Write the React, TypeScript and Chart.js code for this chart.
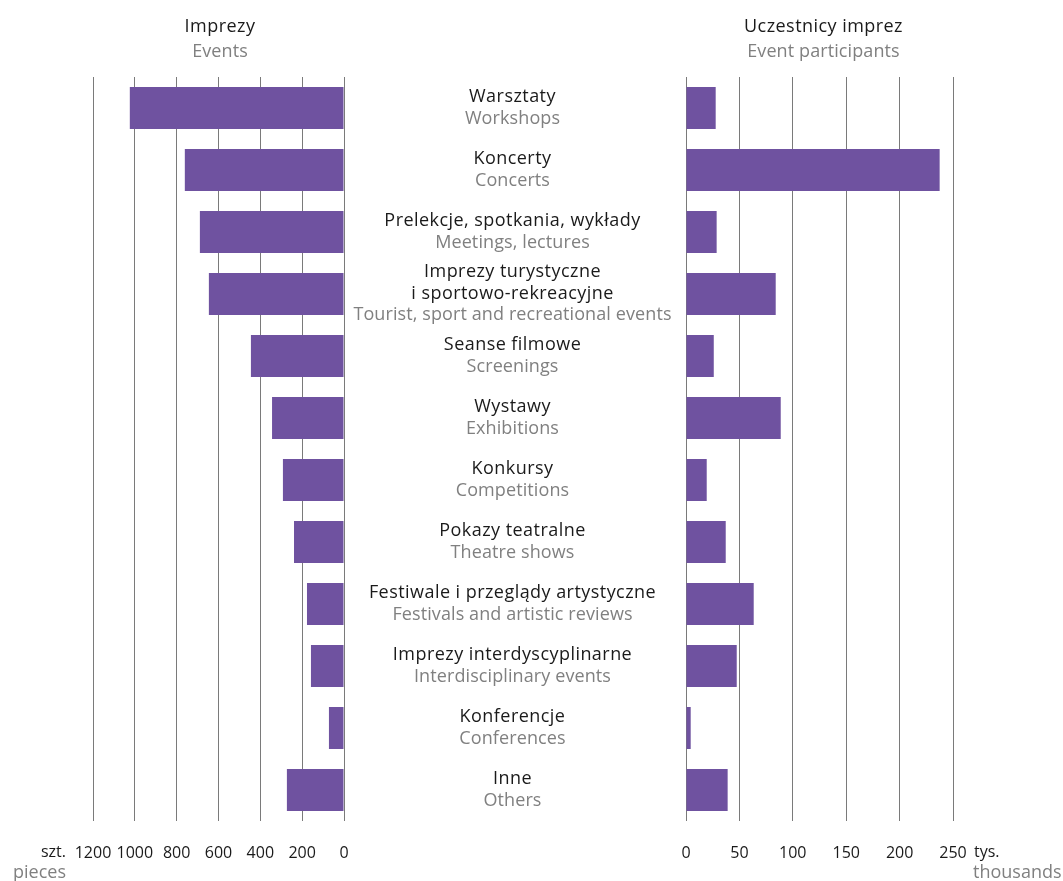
import React, { useEffect, useRef } from 'react';
import { Chart, registerables } from 'chart.js';

Chart.register(...registerables);

// ---------- data ----------
const categoriesPL = [
  'Warsztaty',
  'Koncerty',
  'Prelekcje, spotkania, wykłady',
  'Imprezy turystyczne\ni sportowo-rekreacyjne',
  'Seanse filmowe',
  'Wystawy',
  'Konkursy',
  'Pokazy teatralne',
  'Festiwale i przeglądy artystyczne',
  'Imprezy interdyscyplinarne',
  'Konferencje',
  'Inne',
];

const categoriesEN = [
  'Workshops',
  'Concerts',
  'Meetings, lectures',
  'Tourist, sport and recreational events',
  'Screenings',
  'Exhibitions',
  'Competitions',
  'Theatre shows',
  'Festivals and artistic reviews',
  'Interdisciplinary events',
  'Conferences',
  'Others',
];

// Imprezy / Events (szt. / pieces)
const eventsValues = [1024, 761, 689, 646, 445, 344, 292, 239, 177, 158, 72, 273];
// Uczestnicy imprez / Event participants (tys. / thousands)
const participantsValues = [27.8, 237.5, 28.7, 84, 26, 88.7, 19.4, 37.2, 63.4, 47.5, 4.4, 39];

const eventsTicks = [0, 200, 400, 600, 800, 1000, 1200];
const participantsTicks = [0, 50, 100, 150, 200, 250];

const titleLeftPL = 'Imprezy';
const titleLeftEN = 'Events';
const titleRightPL = 'Uczestnicy imprez';
const titleRightEN = 'Event participants';
const unitLeftPL = 'szt.';
const unitLeftEN = 'pieces';
const unitRightPL = 'tys.';
const unitRightEN = 'thousands';

// ---------- styles ----------
const FONT = "'Open Sans', 'Noto Sans', sans-serif";
const PURPLE = '#6f52a0';
const BLACK = '#1a1a1a';
const GRAY = '#808080';
const GRID = '#7a7a7a';
const LINE_H = 21.5;
const TRACK_BLACK = '0.45px';
const TRACK_GRAY = '0.1px';

const labelsPlugin = {
  id: 'centerLabels',
  afterDraw(chart: any) {
    const ctx = chart.ctx as any;
    const y = chart.scales.y;
    const xL = chart.scales.xL;
    const xR = chart.scales.xR;
    const cx = (xL.right + xR.left) / 2 - 2.5;
    ctx.save();
    ctx.textBaseline = 'alphabetic';
    ctx.textAlign = 'center';
    ctx.font = `18px ${FONT}`;
    categoriesPL.forEach((pl, i) => {
      const lines = pl
        .split('\n')
        .map((t) => ({ t, c: BLACK, s: TRACK_BLACK }))
        .concat([{ t: categoriesEN[i], c: GRAY, s: TRACK_GRAY }]);
      const yc = y.getPixelForValue(i);
      const n = lines.length;
      lines.forEach((ln, k) => {
        ctx.fillStyle = ln.c;
        ctx.letterSpacing = ln.s;
        ctx.fillText(ln.t, cx, yc + 4.75 + (k - (n - 1) / 2) * LINE_H);
      });
    });

    // titles
    const lcx = (xL.left + xL.right) / 2 + 1.5;
    const rcx = (xR.left + xR.right) / 2 + 4;
    ctx.fillStyle = BLACK;
    ctx.letterSpacing = TRACK_BLACK;
    ctx.fillText(titleLeftPL, lcx, 32);
    ctx.fillText(titleRightPL, rcx, 32);
    ctx.fillStyle = GRAY;
    ctx.letterSpacing = TRACK_GRAY;
    ctx.fillText(titleLeftEN, lcx, 57);
    ctx.fillText(titleRightEN, rcx, 57);

    // units
    ctx.letterSpacing = '0px';
    const lx = xL.getPixelForValue(eventsTicks[eventsTicks.length - 1]) - 27;
    const rx = xR.getPixelForValue(participantsTicks[participantsTicks.length - 1]) + 21;
    ctx.textAlign = 'right';
    ctx.font = `16px ${FONT}`;
    ctx.fillStyle = BLACK;
    ctx.fillText(unitLeftPL, lx, 857);
    ctx.font = `18px ${FONT}`;
    ctx.fillStyle = GRAY;
    ctx.fillText(unitLeftEN, lx, 878);
    ctx.textAlign = 'left';
    ctx.font = `16px ${FONT}`;
    ctx.fillStyle = BLACK;
    ctx.fillText(unitRightPL, rx, 857);
    ctx.font = `18px ${FONT}`;
    ctx.fillStyle = GRAY;
    ctx.fillText(unitRightEN, rx - 1, 878);
    ctx.restore();
  },
};

export default function App() {
  const ref = useRef<HTMLCanvasElement>(null);

  useEffect(() => {
    if (!ref.current) return;
    const tickCommon = {
      color: BLACK,
      font: { size: 16, family: FONT },
      padding: 23,
      maxRotation: 0,
      autoSkip: false,
      callback: (v: any) => String(v),
    };
    const chart = new Chart(ref.current, {
      type: 'bar',
      data: {
        labels: categoriesEN,
        datasets: [
          {
            label: titleLeftEN,
            data: eventsValues,
            xAxisID: 'xL',
            yAxisID: 'y',
            backgroundColor: PURPLE,
            borderWidth: 0,
            grouped: false,
            barPercentage: 42 / 62,
            categoryPercentage: 1,
          } as any,
          {
            label: titleRightEN,
            data: participantsValues,
            xAxisID: 'xR',
            yAxisID: 'y',
            backgroundColor: PURPLE,
            borderWidth: 0,
            grouped: false,
            barPercentage: 42 / 62,
            categoryPercentage: 1,
          } as any,
        ],
      },
      options: {
        indexAxis: 'y',
        responsive: false,
        maintainAspectRatio: false,
        animation: false,
        devicePixelRatio: 1,
        layout: { padding: { left: 93, right: 110, top: 77, bottom: -5.2 } },
        plugins: {
          legend: { display: false },
          tooltip: { enabled: false },
        },
        scales: {
          y: {
            type: 'category',
            display: false,
            offset: true,
            grid: { display: false },
          },
          xL: {
            type: 'linear',
            position: 'bottom',
            stack: 'x',
            stackWeight: 251,
            reverse: true,
            min: eventsTicks[0],
            max: eventsTicks[eventsTicks.length - 1],
            ticks: { ...tickCommon, stepSize: eventsTicks[1] - eventsTicks[0] },
            grid: { color: GRID, lineWidth: 1, drawTicks: false },
            border: { display: false },
          },
          xM: {
            type: 'linear',
            position: 'bottom',
            stack: 'x',
            stackWeight: 342,
            min: 0,
            max: 1,
            ticks: { display: false },
            grid: { display: false, drawTicks: false },
            border: { display: false },
          },
          xR: {
            type: 'linear',
            position: 'bottom',
            stack: 'x',
            stackWeight: 267,
            min: participantsTicks[0],
            max: participantsTicks[participantsTicks.length - 1],
            ticks: { ...tickCommon, stepSize: participantsTicks[1] - participantsTicks[0] },
            grid: { color: GRID, lineWidth: 1, drawTicks: false },
            border: { display: false },
          },
        },
      } as any,
      plugins: [labelsPlugin],
    });
    return () => chart.destroy();
  }, []);

  return (
    <div style={{ position: 'absolute', left: 0, top: 0, width: 1063, height: 881, background: '#fff' }}>
      <canvas ref={ref} width={1063} height={881} style={{ display: 'block', width: 1063, height: 881 }} />
    </div>
  );
}
